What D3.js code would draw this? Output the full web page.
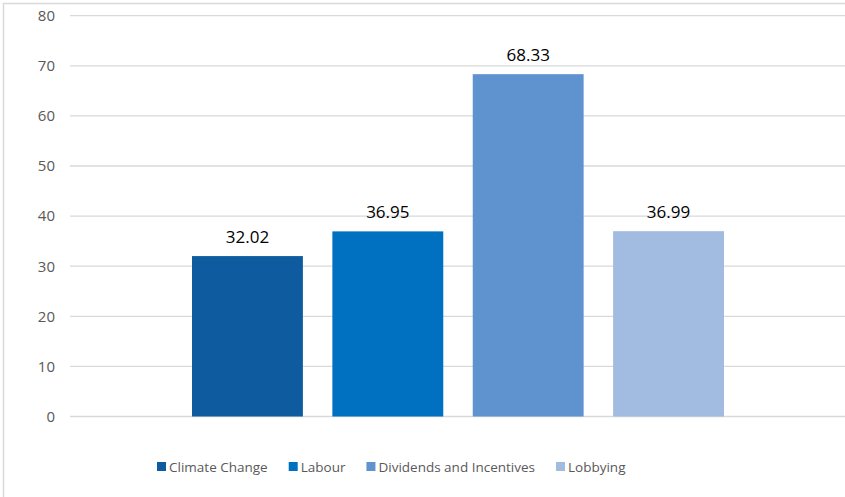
<!DOCTYPE html>
<html><head><meta charset="utf-8">
<script src="https://cdn.jsdelivr.net/npm/d3@7"></script>
<style>
html,body{margin:0;padding:0;background:#fff;}
svg{display:block;font-family:"Open Sans","Noto Sans",sans-serif;}
</style></head>
<body>
<svg id="chart" width="845" height="497"></svg>
<script>
const series = ["Climate Change", "Labour", "Dividends and Incentives", "Lobbying"];
const values = [32.02, 36.95, 68.33, 36.99];
const colors = ["#0E5C9F", "#0070C0", "#5E93CF", "#A2BBE0"];
const yTicks = [0, 10, 20, 30, 40, 50, 60, 70, 80];

const svg = d3.select("#chart");
// chart border
svg.append("rect").attr("x", 3.5).attr("y", 3.5).attr("width", 860).attr("height", 520)
  .attr("fill", "none").attr("stroke", "#D9D9D9").attr("stroke-width", 1.5);

const y = d3.scaleLinear().domain([0, 80]).range([416.5, 15.7]);
const x = d3.scaleBand().domain(series).range([192, 724]).paddingInner(0.21).paddingOuter(0);

// gridlines
svg.append("g").selectAll("line").data(yTicks).join("line")
  .attr("x1", 70).attr("x2", 845)
  .attr("y1", d => y(d)).attr("y2", d => y(d))
  .attr("stroke", "#D9D9D9").attr("stroke-width", 1.3);

// y axis labels
const yAxis = d3.axisLeft(y).tickValues(yTicks).tickSize(0).tickPadding(0);
const ya = svg.append("g").attr("transform", "translate(55,0)").call(yAxis);
ya.select(".domain").remove();
ya.selectAll("text").attr("font-size", 15).attr("fill", "#595959")
  .attr("font-family", "'Open Sans','Noto Sans',sans-serif");

// bars
svg.append("g").selectAll("rect").data(values).join("rect")
  .attr("x", (d, i) => x(series[i]))
  .attr("y", d => y(d))
  .attr("width", x.bandwidth())
  .attr("height", d => y(0) - y(d))
  .attr("fill", (d, i) => colors[i]);

// data labels
svg.append("g").selectAll("text").data(values).join("text")
  .attr("x", (d, i) => x(series[i]) + x.bandwidth() / 2)
  .attr("y", d => y(d) - 13)
  .attr("text-anchor", "middle")
  .attr("font-size", 17).attr("fill", "#000")
  .text(d => d.toFixed(2));

// legend
const lg = svg.append("g");
let lx = 157;
series.forEach((s, i) => {
  lg.append("rect").attr("x", lx).attr("y", 462).attr("width", 9).attr("height", 9).attr("fill", colors[i]);
  const t = lg.append("text").attr("x", lx + 12).attr("y", 472).attr("font-size", 13.5).attr("fill", "#595959").text(s);
  const w = t.node().getComputedTextLength();
  lx = lx + 12 + w + 21;
});
</script>
</body></html>
